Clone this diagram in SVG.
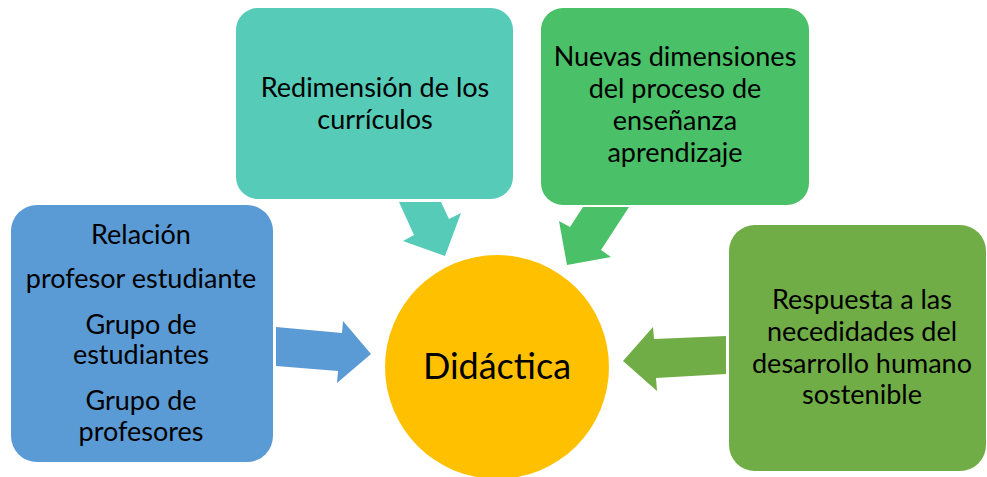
<svg xmlns="http://www.w3.org/2000/svg" width="987" height="477" viewBox="0 0 987 477">
<style>
.t{font-family:Lato,"Liberation Sans",sans-serif;font-size:27px;fill:#000;text-anchor:middle}
.big{font-family:Lato,"Liberation Sans",sans-serif;font-size:36px;fill:#000;text-anchor:middle}
.teal{fill:#55CBB8}
.green{fill:#4AC068}
.blue{fill:#5B9BD5}
.lgreen{fill:#70AD47}
</style>
<rect width="987" height="477" fill="#fff"/>
<g id="connectors">
<polygon class="teal" points="399,202 441,202 449,219 461,213 445,256 403,241 414,235"/>
<polygon class="green" points="583,207 629,207 601,250 611,257 567,265 559,221 570,227"/>
<polygon class="blue" points="276,327 342,333 343,321 371,354 337,383 338,371 276,366"/>
<polygon class="lgreen" points="726,336 654,339 653,327 623,361 657,391 656,378 726,374"/>
</g>
<g id="node-curriculos">
<rect class="teal" x="236" y="8" width="277" height="191" rx="22"/>
<text class="t" x="375" y="97">Redimensión de los</text>
<text class="t" x="375" y="129">currículos</text>
</g>
<g id="node-dimensiones">
<rect class="green" x="541" y="8" width="268" height="197" rx="22"/>
<text class="t" x="675" y="66">Nuevas dimensiones</text>
<text class="t" x="675" y="98">del proceso de</text>
<text class="t" x="675" y="130">enseñanza</text>
<text class="t" x="675" y="162">aprendizaje</text>
</g>
<g id="node-relacion">
<rect class="blue" x="11" y="205" width="262" height="257" rx="26"/>
<text class="t" x="141" y="244">Relación</text>
<text class="t" x="141" y="288">profesor estudiante</text>
<text class="t" x="141" y="334">Grupo de</text>
<text class="t" x="141" y="364">estudiantes</text>
<text class="t" x="141" y="410">Grupo de</text>
<text class="t" x="141" y="441">profesores</text>
</g>
<g id="node-respuesta">
<rect class="lgreen" x="729" y="225" width="257" height="246" rx="26"/>
<text class="t" x="862" y="309">Respuesta a las</text>
<text class="t" x="862" y="341">necedidades del</text>
<text class="t" x="862" y="373">desarrollo humano</text>
<text class="t" x="862" y="404">sostenible</text>
</g>
<g id="node-didactica">
<circle cx="497" cy="367" r="112" fill="#FFC000"/>
<text class="big" x="497" y="379">Didáctica</text>
</g>
</svg>
